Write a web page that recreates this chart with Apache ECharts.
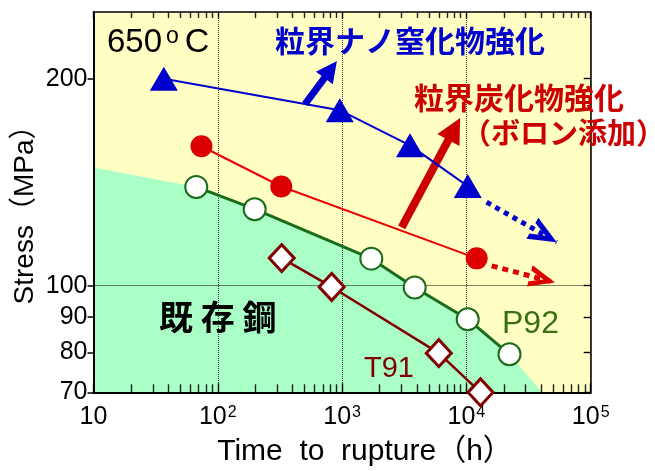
<!DOCTYPE html>
<html><head><meta charset="utf-8">
<script src="https://cdn.jsdelivr.net/npm/echarts@6/dist/echarts.min.js"></script>
<style>html,body{margin:0;padding:0;background:#fff}#c{width:655px;height:471px}</style>
</head><body><div id="c"></div>
<script>
// ---- data (time to rupture [h], stress [MPa]) ----
const yTickValues = [70, 80, 90, 100, 200];
const nanoNitride = [[36.8, 200], [957, 180], [3516, 160], [10250, 139.6]];
const boronCarbide = [[73.9, 159.5], [324, 139.4], [12100, 109.6]];
const p92 = [[67.1, 139.2], [198, 129.2], [1718, 109.5], [3837, 99.4], [10245, 89.4], [22220, 79.5]];
const t91 = [[326.5, 109.7], [824, 99.6], [5998, 79.8], [12990, 70]];
const existingSteelRegion = [[10, 148.6], [67.1, 139.2], [198, 129.2], [1718, 109.5], [3837, 99.4], [10245, 89.4], [22220, 79.5], [40400, 70]];
const nanoTrend = [[14550, 132.3], [53280, 115.7]];
const boronTrend = [[15980, 106.9], [51640, 101.1]];
const nanoGainArrow = [[503, 183.7], [809, 206.2]];
const boronGainArrow = [[3016, 121.6], [7990, 169.0]];

const minorTicks = [];
for (let k = 1; k <= 4; k++) for (let m = 2; m <= 9; m++) minorTicks.push(m * Math.pow(10, k));

const LAT = '"Liberation Sans", Arial, sans-serif';
const CJK = '"Noto Sans CJK JP", sans-serif';
const chevron = 'path://M10,0 L20,24 L15,24 L10,11 L5,24 L0,24 Z';

const chart = echarts.init(document.getElementById('c'), null, {renderer: 'canvas'});
const grid = {left: 93.5, right: 64.3, top: 12, bottom: 78.7, show: true, backgroundColor: '#FFFFC4', borderWidth: 0, z: 0};

function arrowLine(coords, color, width, type, symbol, size, offset) {
  return {
    type: 'line', data: [], z: 4, silent: true,
    markLine: {
      silent: true, animation: false,
      symbol: ['none', symbol], symbolSize: size,
      symbolOffset: [0, offset],
      label: {show: false},
      lineStyle: {color: color, width: width, type: type, cap: 'butt'},
      emphasis: {disabled: true},
      data: [[{coord: coords[0]}, {coord: coords[1]}]]
    }
  };
}
function minorAxis(pos, len) {
  return {type: 'log', logBase: 10, min: 10, max: 100000, position: pos, z: 2,
    axisLine: {show: true, lineStyle: {color: 'rgba(0,0,0,0)'}},
    axisTick: {show: true, inside: true, length: len, customValues: minorTicks, lineStyle: {color: '#222', width: 1.4}},
    splitLine: {show: false}, axisLabel: {show: false}};
}

const option = {
  animation: false,
  grid: grid,
  xAxis: [
    {type: 'log', logBase: 10, min: 10, max: 100000, position: 'bottom', z: 2,
     axisLine: {show: true, lineStyle: {color: '#000', width: 2}},
     axisTick: {show: true, inside: true, length: 9, lineStyle: {color: '#000', width: 1.4}},
     splitLine: {show: true, lineStyle: {color: '#333', width: 1, type: [1, 1]}},
     axisLabel: {show: true, margin: 12, color: '#000', fontFamily: LAT,
       formatter: function (v) {
         const e = Math.round(Math.log10(v));
         return e === 1 ? '{b|10}' : '{b|10}{s|' + e + '}';
       },
       rich: {b: {fontSize: 25, fontFamily: LAT, color: '#000'},
              s: {fontSize: 16, fontFamily: LAT, color: '#000', verticalAlign: 'top', padding: [0, 0, 10, 1]}}}},
    {type: 'log', logBase: 10, min: 10, max: 100000, position: 'top', z: 2,
     axisLine: {show: true, lineStyle: {color: '#000', width: 1.5}},
     axisTick: {show: true, inside: true, length: 7, lineStyle: {color: '#000', width: 1.4}},
     splitLine: {show: false}, axisLabel: {show: false}},
    minorAxis('bottom', 8),
    minorAxis('top', 6)
  ],
  yAxis: [
    {type: 'log', logBase: 10, min: 70, max: 250, position: 'left', z: 2,
     axisLine: {show: true, lineStyle: {color: '#000', width: 2}},
     axisTick: {show: true, inside: false, length: 6, customValues: yTickValues, lineStyle: {color: '#000', width: 1.5}},
     axisLabel: {show: true, customValues: yTickValues, margin: 6, color: '#000', fontSize: 25, fontFamily: LAT},
     splitLine: {show: false}},
    {type: 'log', logBase: 10, min: 70, max: 250, position: 'right', z: 2,
     axisLine: {show: true, lineStyle: {color: '#000', width: 1.5}},
     axisTick: {show: true, inside: true, length: 7, customValues: yTickValues, lineStyle: {color: '#000', width: 1.4}},
     axisLabel: {show: false}, splitLine: {show: false}}
  ],
  series: [
    {name: 'existing', type: 'line', data: existingSteelRegion, z: 1, silent: true,
     symbol: 'none', lineStyle: {width: 0},
     areaStyle: {color: '#AAFFC6', opacity: 1, origin: 'start'}},
    {name: 'grid100', type: 'line', data: [], z: 2, silent: true,
     markLine: {silent: true, animation: false, symbol: 'none', label: {show: false},
       lineStyle: {color: '#000', width: 1, type: [1, 1]}, data: [{yAxis: 100}]}},
    arrowLine(nanoTrend, '#0000CC', 5, [5, 5], chevron, [24, 28], [0, '50%']),
    arrowLine(boronTrend, '#DD0000', 5, [6, 5], chevron, [22, 26], [0, '50%']),
    arrowLine(nanoGainArrow, '#0000CC', 7, 'solid', 'triangle', [21, 21], 0),
    arrowLine(boronGainArrow, '#CC0000', 8, 'solid', 'triangle', [25, 25], 0),
    {name: 'T91', type: 'line', data: t91, z: 5, clip: false,
     symbol: 'diamond', symbolSize: [25, 27], showAllSymbol: true,
     lineStyle: {color: '#800000', width: 2.5},
     itemStyle: {color: '#fff', borderColor: '#800000', borderWidth: 3}},
    {name: 'P92', type: 'line', data: p92, z: 5, clip: false,
     symbol: 'circle', symbolSize: 22,
     lineStyle: {color: '#1B6B1B', width: 3},
     itemStyle: {color: '#fff', borderColor: '#1B6B1B', borderWidth: 2}},
    {name: 'boron', type: 'line', data: boronCarbide, z: 5, clip: false,
     symbol: 'circle', symbolSize: 22,
     lineStyle: {color: '#EE0000', width: 2},
     itemStyle: {color: '#DD0000', borderWidth: 0}},
    {name: 'nano', type: 'line', data: nanoNitride, z: 5, clip: false,
     symbol: 'triangle', symbolSize: [28, 24],
     lineStyle: {color: '#0000CC', width: 2},
     itemStyle: {color: '#0000CC', borderWidth: 0}}
  ],
  graphic: [
    {type: 'text', x: 107, y: 43, z: 10, silent: true,
     style: {text: '{a|650}{o|o}{c|C}', verticalAlign: 'middle', align: 'left',
       rich: {a: {fontSize: 33, fontFamily: LAT, color: '#000'},
              o: {fontSize: 23, fontFamily: LAT, color: '#000', verticalAlign: 'top', padding: [0, 6, 12, 4]},
              c: {fontSize: 34, fontFamily: LAT, color: '#000'}}}},
    {type: 'text', x: 275, y: 41, z: 10, silent: true,
     style: {text: '粒界ナノ窒化物強化', fontSize: 30, fontWeight: 'bold', fontFamily: CJK, fill: '#0000CC', verticalAlign: 'middle', align: 'left'}},
    {type: 'text', x: 414, y: 98, z: 10, silent: true,
     style: {text: '粒界炭化物強化', fontSize: 30, fontWeight: 'bold', fontFamily: CJK, fill: '#CC0000', verticalAlign: 'middle', align: 'left'}},
    {type: 'text', x: 462, y: 133, z: 10, silent: true,
     style: {text: '（ボロン添加）', fontSize: 29, fontWeight: 'bold', fontFamily: CJK, fill: '#CC0000', verticalAlign: 'middle', align: 'left'}},
    {type: 'text', x: 159, y: 317, z: 10, silent: true,
     style: {text: '既 存 鋼', fontSize: 34, fontWeight: 'bold', fontFamily: CJK, fill: '#000', verticalAlign: 'middle', align: 'left'}},
    {type: 'text', x: 502, y: 324, z: 10, silent: true,
     style: {text: 'P92', fontSize: 32, fontFamily: LAT, fill: '#3A7012', verticalAlign: 'middle', align: 'left'}},
    {type: 'text', x: 364, y: 369, z: 10, silent: true,
     style: {text: 'T91', fontSize: 29, fontFamily: LAT, fill: '#800000', verticalAlign: 'middle', align: 'left'}},
    {type: 'text', x: 365, y: 452, z: 10, silent: true,
     style: {text: 'Time  to  rupture（h）', fontSize: 30, fontFamily: LAT + ',' + CJK, fill: '#000', verticalAlign: 'middle', align: 'center'}},
    {type: 'text', x: 25, y: 208, rotation: Math.PI / 2, z: 10, silent: true,
     style: {text: 'Stress（MPa）', fontSize: 28, fontFamily: LAT + ',' + CJK, fill: '#000', verticalAlign: 'middle', align: 'center'}}
  ]
};
chart.setOption(option);
</script>
</body></html>
